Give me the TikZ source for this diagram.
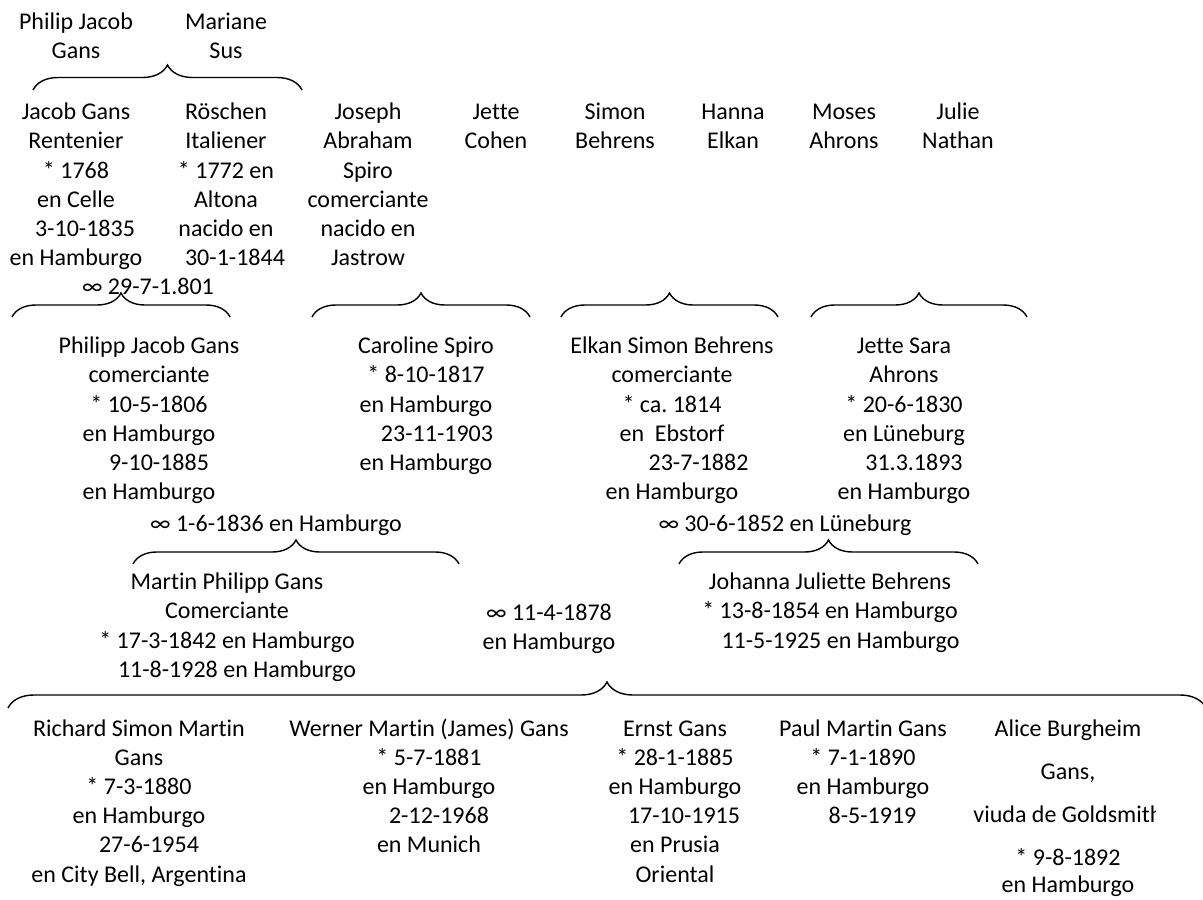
\documentclass[tikz,border=0pt]{standalone}
\usepackage{fontspec}
\setmainfont{Carlito}[Ligatures=NoCommon]
\frenchspacing
\usetikzlibrary{decorations.pathreplacing}
\tikzset{
  pers/.style={font=\fontsize{24}{29.2}\selectfont, align=center, anchor=north, inner sep=0pt},
  fambrace/.style={line width=1.4pt, decorate, decoration={brace, amplitude=#1, aspect=0.5}},
  fambrace/.default=24pt
}
\begin{document}
\begin{tikzpicture}[x=1pt, y=-1pt]
\useasboundingbox (0,0) rectangle (1203,900);

% generation 0
\node[pers] (pjg) at (76,8.5) {\strut Philip Jacob\\Gans};
\node[pers] (ms) at (226,8.5) {\strut Mariane\\Sus};

% generation 1
\node[pers] (jg) at (76,99) {\strut Jacob Gans\\Rentenier\\* 1768\\en Celle\\\hspace*{18pt}3-10-1835\\en Hamburgo};
\node[pers] (rs) at (226,99) {\strut Röschen\\Italiener\\* 1772 en\\Altona\\nacido en\\\hspace*{18pt}30-1-1844};
\node[pers] (jas) at (368,99) {\strut Joseph\\Abraham\\Spiro\\comerciante\\nacido en\\Jastrow};
\node[pers] (jc) at (496,99) {\strut Jette\\Cohen};
\node[pers] (sb) at (615,99) {\strut Simon\\Behrens};
\node[pers] (he) at (733,99) {\strut Hanna\\Elkan};
\node[pers] (ma) at (844,99) {\strut Moses\\Ahrons};
\node[pers] (jn) at (958,99) {\strut Julie\\Nathan};
\node[pers] (m1) at (148,274) {\strut ∞ 29-7-1.801};

% generation 2
\node[pers] (pjg2) at (149,333) {\strut Philipp Jacob Gans\\comerciante\\* 10-5-1806\\en Hamburgo\\\hspace*{20pt}9-10-1885\\en Hamburgo};
\node[pers] (cs) at (426,333) {\strut Caroline Spiro\\* 8-10-1817\\en Hamburgo\\\hspace*{22pt}23-11-1903\\en Hamburgo};
\node[pers] (esb) at (672,333) {\strut Elkan Simon Behrens\\comerciante\\* ca. 1814\\en\ \ Ebstorf\\\hspace*{53pt}23-7-1882\\en Hamburgo};
\node[pers] (jsa) at (904,333) {\strut Jette Sara\\Ahrons\\* 20-6-1830\\en Lüneburg\\\hspace*{20pt}31.3.1893\\en Hamburgo};
\node[pers] (m2) at (276,510.5) {\strut ∞ 1-6-1836 en Hamburgo};
\node[pers] (m3) at (785,510.5) {\strut ∞ 30-6-1852 en Lüneburg};

% generation 3
\node[pers] (mpg) at (227,569) {\strut Martin Philipp Gans\\Comerciante\\* 17-3-1842 en Hamburgo\\\hspace*{20pt}11-8-1928 en Hamburgo};
\node[pers] (jjb) at (830,569) {\strut Johanna Juliette Behrens\\* 13-8-1854 en Hamburgo\\\hspace*{21pt}11-5-1925 en Hamburgo};
\node[pers] (m4) at (549,600) {\strut ∞ 11-4-1878\\en Hamburgo};

% generation 4
\node[pers] (rsm) at (139,715.5) {\strut Richard Simon Martin\\Gans\\* 7-3-1880\\en Hamburgo\\\hspace*{20pt}27-6-1954\\en City Bell, Argentina};
\node[pers] (wmg) at (429,715.5) {\strut Werner Martin (James) Gans\\* 5-7-1881\\en Hamburgo\\\hspace*{20pt}2-12-1968\\en Munich};
\node[pers] (eg) at (675,715.5) {\strut Ernst Gans\\* 28-1-1885\\en Hamburgo\\\hspace*{18pt}17-10-1915\\en Prusia\\Oriental};
\node[pers] (pmg) at (863,715.5) {\strut Paul Martin Gans\\* 7-1-1890\\en Hamburgo\\\hspace*{19pt}8-5-1919};
\begin{scope}
  \clip (0,0) rectangle (1155,900);
  \node[pers] (ab) at (1068,715.5) {\strut Alice Burgheim\\[14pt]Gans,\\[14pt]viuda de Goldsmith\\[14pt]* 9-8-1892\\[-2pt]en Hamburgo};
\end{scope}

% brace end points
\coordinate (b0l) at (33,90);   \coordinate (b0r) at (302,90);
\coordinate (bAl) at (12,317);  \coordinate (bAr) at (230,317);
\coordinate (bBl) at (312,317); \coordinate (bBr) at (530,317);
\coordinate (bCl) at (561,317); \coordinate (bCr) at (778,317);
\coordinate (bDl) at (811,317); \coordinate (bDr) at (1027,317);
\coordinate (bEl) at (133,564); \coordinate (bEr) at (459,564);
\coordinate (bFl) at (679,564); \coordinate (bFr) at (978,564);
\coordinate (bGl) at (8,708);   \coordinate (bGr) at (1206,708);

\draw[fambrace=25pt] (b0l) -- (b0r);
\draw[fambrace] (bAl) -- (bAr);
\draw[fambrace] (bBl) -- (bBr);
\draw[fambrace] (bCl) -- (bCr);
\draw[fambrace] (bDl) -- (bDr);
\draw[fambrace] (bEl) -- (bEr);
\draw[fambrace] (bFl) -- (bFr);
\draw[fambrace=26pt] (bGl) -- (bGr);
\end{tikzpicture}
\end{document}
